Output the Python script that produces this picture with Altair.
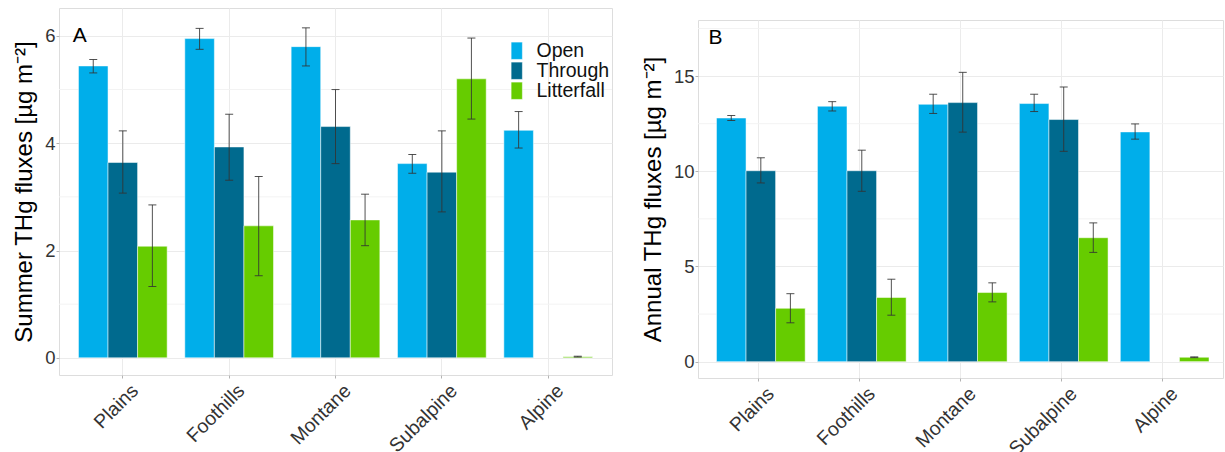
import altair as alt
import pandas as pd

# Elevation zones along the transect and the three deposition pathways
zones = ["Plains", "Foothills", "Montane", "Subalpine", "Alpine"]
types = ["Open", "Through", "Litterfall"]
type_colors = ["#00AEEA", "#006A8E", "#66CC00"]

# Summer THg fluxes (µg m-2): mean, lower and upper error limits per zone
summer_open = [5.44, 5.95, 5.80, 3.62, 4.24]
summer_open_lo = [5.31, 5.75, 5.44, 3.44, 3.91]
summer_open_hi = [5.56, 6.14, 6.15, 3.79, 4.59]
summer_through = [3.64, 3.93, 4.31, 3.46, None]
summer_through_lo = [3.07, 3.31, 3.62, 2.72, None]
summer_through_hi = [4.23, 4.54, 5.00, 4.23, None]
summer_litter = [2.08, 2.46, 2.57, 5.20, 0.02]
summer_litter_lo = [1.33, 1.53, 2.09, 4.45, 0.015]
summer_litter_hi = [2.85, 3.38, 3.05, 5.96, 0.03]

# Annual THg fluxes (µg m-2)
annual_open = [12.80, 13.42, 13.52, 13.56, 12.07]
annual_open_lo = [12.67, 13.17, 13.04, 13.14, 11.69]
annual_open_hi = [12.93, 13.66, 14.05, 14.05, 12.49]
annual_through = [10.03, 10.03, 13.61, 12.72, None]
annual_through_lo = [9.39, 8.95, 12.06, 11.05, None]
annual_through_hi = [10.71, 11.11, 15.20, 14.43, None]
annual_litter = [2.80, 3.37, 3.63, 6.51, 0.23]
annual_litter_lo = [2.04, 2.44, 3.14, 5.74, 0.21]
annual_litter_hi = [3.57, 4.33, 4.14, 7.29, 0.25]

# Axis ticks and minor gridlines
summer_ticks = [0, 2, 4, 6]
summer_minor = [1, 3, 5]
annual_ticks = [0, 5, 10, 15]
annual_minor = [2.5, 7.5, 12.5, 17.5]

FONT = "Liberation Sans"


def build_table(series):
    rows = []
    for t, (mean, lo, hi) in zip(types, series):
        for z, m, l, h in zip(zones, mean, lo, hi):
            if m is None:
                continue
            rows.append({"zone": z, "type": t, "value": m, "lo": l, "hi": h})
    return pd.DataFrame(rows)


summer_df = build_table([
    (summer_open, summer_open_lo, summer_open_hi),
    (summer_through, summer_through_lo, summer_through_hi),
    (summer_litter, summer_litter_lo, summer_litter_hi),
])
annual_df = build_table([
    (annual_open, annual_open_lo, annual_open_hi),
    (annual_through, annual_through_lo, annual_through_hi),
    (annual_litter, annual_litter_lo, annual_litter_hi),
])


def panel(df, minor, ticks, ydomain, ytitle, letter, letter_y, width, height, show_legend):
    xscale = alt.Scale(domain=zones, paddingInner=0.166, paddingOuter=0.183)
    x_enc = alt.X(
        "zone:N",
        scale=xscale,
        title=None,
        axis=alt.Axis(
            labelAngle=-45, labelAlign="right", labelBaseline="top",
            labelFontSize=19.5, labelColor="#333333", labelFont=FONT,
            labelPadding=3, labelOffset=6,
            grid=True, gridColor="#ebebeb", gridWidth=1,
            domain=False, ticks=True, tickSize=3, tickColor="#b3b3b3",
        ),
    )
    xo_enc = alt.XOffset("type:N", scale=alt.Scale(domain=types, paddingInner=0, paddingOuter=0))
    yscale = alt.Scale(domain=ydomain, nice=False, zero=False)
    y_axis = alt.Axis(
        values=ticks, title=ytitle, titleFontSize=24, titleFontWeight="normal",
        titleColor="#000000", titleFont=FONT, titlePadding=8,
        labelFontSize=18.5, labelColor="#333333", labelFont=FONT, labelPadding=1,
        grid=True, gridColor="#ebebeb", gridWidth=1,
        domain=False, tickSize=3, tickColor="#b3b3b3",
    )

    minor_df = pd.DataFrame({"value": minor})
    minor_rules = alt.Chart(minor_df).mark_rule(color="#f3f3f3", strokeWidth=1).encode(
        y=alt.Y("value:Q", scale=yscale, axis=y_axis)
    )

    color = alt.Color(
        "type:N",
        scale=alt.Scale(domain=types, range=type_colors),
        legend=alt.Legend(
            title=None, orient="none", legendX=448, legendY=33,
            symbolType="M-0.65,-1L0.65,-1L0.65,1L-0.65,1Z", symbolSize=300,
            symbolStrokeColor="white", symbolStrokeWidth=0.5, symbolOpacity=1,
            labelFontSize=19.5, labelFont=FONT, labelColor="#111111",
            labelOffset=10, rowPadding=-2.5, padding=0,
        ) if show_legend else None,
    )

    bars = alt.Chart(df).mark_bar(stroke="white", strokeWidth=0.5).encode(
        x=x_enc, xOffset=xo_enc,
        y=alt.Y("value:Q", scale=yscale, axis=y_axis), y2=alt.datum(0),
        color=color,
    )
    whisker = alt.Chart(df).mark_rule(color="#333333", strokeWidth=1, opacity=0.85).encode(
        x=x_enc, xOffset=xo_enc,
        y=alt.Y("lo:Q", scale=yscale, axis=y_axis), y2="hi:Q",
    )
    cap_lo = alt.Chart(df).mark_tick(color="#333333", size=8, thickness=1, opacity=0.85).encode(
        x=x_enc, xOffset=xo_enc, y=alt.Y("lo:Q", scale=yscale, axis=y_axis),
    )
    cap_hi = alt.Chart(df).mark_tick(color="#333333", size=8, thickness=1, opacity=0.85).encode(
        x=x_enc, xOffset=xo_enc, y=alt.Y("hi:Q", scale=yscale, axis=y_axis),
    )

    letter_df = pd.DataFrame({"zone": ["Plains"], "value": [letter_y], "label": [letter]})
    letter_text = alt.Chart(letter_df).mark_text(
        fontSize=21, font=FONT, color="#000000", dx=-43, align="center", baseline="middle"
    ).encode(
        x=x_enc, y=alt.Y("value:Q", scale=yscale, axis=y_axis), text="label:N"
    )

    return alt.layer(minor_rules, bars, whisker, cap_lo, cap_hi, letter_text).properties(
        width=width, height=height
    )


summer = panel(summer_df, summer_minor, summer_ticks, [-0.32, 6.52],
               "Summer THg fluxes [µg m⁻²]", "A", 6.0, 553, 367, True)
annual = panel(annual_df, annual_minor, annual_ticks, [-0.86, 17.95],
               "Annual THg fluxes [µg m⁻²]", "B", 17.0, 525, 358, False)

# Blank strip that lowers the annual panel below the summer panel's top edge
spacer = alt.Chart(pd.DataFrame({"zone": ["Plains"]})).mark_point(opacity=0).properties(
    width=525, height=10, view=alt.ViewBackground(stroke="transparent")
)
annual_col = alt.vconcat(spacer, annual, spacing=0)

chart = alt.hconcat(summer, annual_col, spacing=27).resolve_scale(color="independent").properties(
    padding={"left": 12, "top": 7, "right": 0, "bottom": 0}
).configure_view(stroke="#b3b3b3", strokeWidth=1).configure(font=FONT)

chart.save("out.html", embed_options={"renderer": "svg", "actions": False})
